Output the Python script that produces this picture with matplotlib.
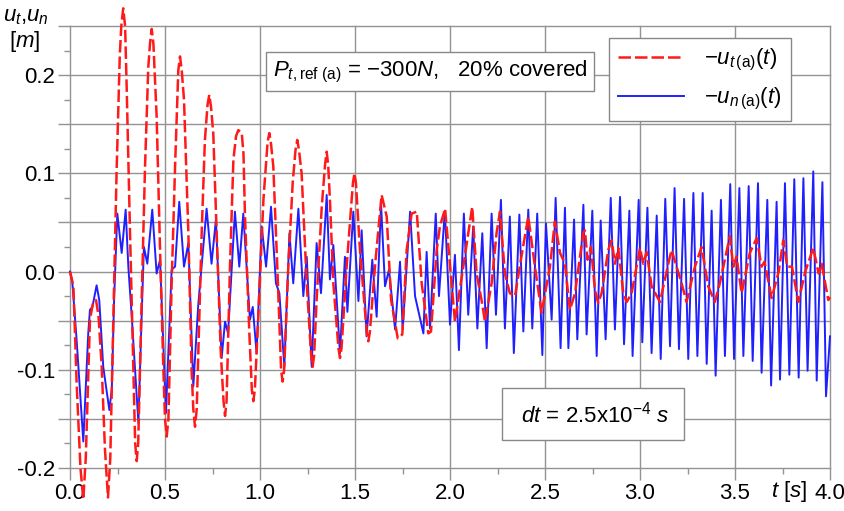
import matplotlib.pyplot as plt
from matplotlib.ticker import MultipleLocator

plt.rcParams['font.family'] = ['Liberation Sans', 'DejaVu Sans']
plt.rcParams['mathtext.fontset'] = 'custom'
plt.rcParams['mathtext.rm'] = 'Liberation Sans'
plt.rcParams['mathtext.it'] = 'Liberation Sans:italic'
plt.rcParams['mathtext.bf'] = 'Liberation Sans:bold'

# -u_t(a)(t), red dashed: points
t_red = [0.000, 0.018, 0.035, 0.055, 0.070, 0.083, 0.105, 0.120, 0.137, 0.150,
         0.167, 0.184, 0.200, 0.212, 0.228, 0.245, 0.262, 0.270, 0.280, 0.290,
         0.298, 0.316, 0.333, 0.343, 0.351, 0.359, 0.377, 0.395, 0.412, 0.421,
         0.430, 0.439, 0.456, 0.474, 0.491, 0.500, 0.509, 0.518, 0.535, 0.553,
         0.570, 0.579, 0.588, 0.600, 0.623, 0.640, 0.649, 0.658, 0.667, 0.693,
         0.710, 0.724, 0.733, 0.742, 0.754, 0.772, 0.793, 0.808, 0.816, 0.824,
         0.842, 0.860, 0.874, 0.886, 0.904, 0.913, 0.921, 0.944, 0.957, 0.965,
         0.973, 0.991, 1.018, 1.040, 1.049, 1.058, 1.070, 1.091, 1.111, 1.119,
         1.127, 1.149, 1.172, 1.187, 1.196, 1.205, 1.219, 1.246, 1.269, 1.277,
         1.285, 1.298, 1.325, 1.343, 1.351, 1.359, 1.368, 1.386, 1.413, 1.421,
         1.429, 1.456, 1.489, 1.497, 1.505, 1.526, 1.562, 1.570, 1.578, 1.605,
         1.640, 1.667, 1.690, 1.725, 1.749, 1.772, 1.798, 1.825, 1.851, 1.886,
         1.900, 1.930, 1.947, 1.974,
         2.026, 2.070, 2.096, 2.117, 2.140, 2.166, 2.184, 2.219, 2.245,
         2.263, 2.289, 2.315, 2.342, 2.380, 2.412, 2.447, 2.482, 2.526, 2.552,
         2.579, 2.605, 2.631, 2.658, 2.701, 2.710, 2.724, 2.742, 2.763, 2.780,
         2.798, 2.833, 2.851, 2.868, 2.886, 2.912, 2.930, 2.956, 3.000, 3.017,
         3.035, 3.061, 3.105, 3.149, 3.166, 3.219, 3.245, 3.289, 3.324, 3.359,
         3.394, 3.420, 3.473, 3.491, 3.508, 3.535, 3.578, 3.614, 3.640, 3.655,
         3.693, 3.730, 3.754, 3.775, 3.800, 3.833, 3.870, 3.912, 3.940, 3.956,
         3.991, 4.000]
u_red = [0.000, -0.015, -0.114, -0.200, -0.232, -0.190, -0.049, -0.033, -0.029, -0.045,
         -0.097, -0.181, -0.230, -0.190, -0.050, 0.100, 0.220, 0.250, 0.268, 0.250,
         0.190, 0.039, -0.097, -0.175, -0.193, -0.175, -0.029, 0.107, 0.208, 0.232,
         0.247, 0.232, 0.158, 0.022, -0.097, -0.150, -0.168, -0.150, -0.012, 0.107,
         0.205, 0.219, 0.205, 0.175, 0.039, -0.100, -0.140, -0.158, -0.140, 0.039,
         0.134, 0.170, 0.180, 0.168, 0.141, 0.039, -0.080, -0.132, -0.147, -0.132,
         0.005, 0.114, 0.138, 0.144, 0.141, 0.120, 0.056, -0.063, -0.120, -0.132,
         -0.120, -0.046, 0.073, 0.132, 0.141, 0.130, 0.107, 0.005, -0.100, -0.112,
         -0.100, 0.005, 0.090, 0.124, 0.134, 0.124, 0.100, -0.012, -0.085, -0.097,
         -0.085, -0.029, 0.066, 0.110, 0.122, 0.108, 0.073, -0.012, -0.078, -0.088,
         -0.078, 0.005, 0.090, 0.100, 0.090, 0.022, -0.062, -0.071, -0.062, 0.005,
         0.078, 0.056, -0.029, -0.068, -0.064, 0.022, 0.059, 0.061, -0.012, -0.063,
         -0.061, 0.022, 0.046, 0.064,
         -0.051, 0.005, 0.039, 0.066, -0.002, -0.029, -0.051, -0.012, 0.039,
         0.061, -0.002, -0.022, -0.025, 0.020, 0.056, 0.005, -0.042, 0.005, 0.051,
         0.019, 0.008, -0.039, -0.022, 0.039, 0.042, 0.012, 0.025, -0.019, -0.032,
         -0.022, 0.022, 0.032, 0.008, 0.024, -0.022, -0.031, -0.022, 0.024, 0.008,
         0.020, -0.015, -0.031, 0.008, 0.022, -0.012, -0.031, 0.005, 0.025, -0.015,
         -0.031, -0.012, 0.036, 0.005, 0.015, -0.022, 0.019, 0.034, 0.005, 0.010,
         -0.027, 0.000, 0.032, 0.005, 0.005, -0.031, 0.000, 0.024, -0.002, 0.008,
         -0.029, -0.026]

# -u_n(a)(t), blue solid: points
t_blue = [0.000, 0.012, 0.035, 0.070, 0.096, 0.105, 0.118, 0.140, 0.154, 0.175,
          0.207, 0.220, 0.232, 0.249, 0.272, 0.293, 0.307, 0.325, 0.360, 0.377,
          0.389, 0.407, 0.433, 0.456, 0.474, 0.505, 0.535, 0.553, 0.575, 0.600,
          0.623, 0.649, 0.675, 0.719, 0.745, 0.768, 0.798, 0.816, 0.832, 0.868,
          0.891, 0.912, 0.947, 0.962, 0.982, 1.009, 1.032, 1.058, 1.084, 1.102,
          1.128, 1.155, 1.175, 1.202, 1.228, 1.246, 1.272, 1.298, 1.321, 1.351,
          1.368, 1.386, 1.421, 1.447, 1.460, 1.491, 1.518, 1.535, 1.561, 1.591,
          1.614, 1.637, 1.658, 1.679, 1.711, 1.737, 1.751, 1.790, 1.816, 1.860,
          1.877, 1.895, 1.925, 1.942, 1.973, 2.000, 2.026, 2.047, 2.073, 2.096,
          2.122, 2.144, 2.170, 2.193, 2.219, 2.242, 2.268, 2.289, 2.315, 2.336,
          2.365, 2.386, 2.412, 2.433, 2.459, 2.486, 2.505, 2.535, 2.556, 2.582,
          2.605, 2.623, 2.653, 2.670, 2.702, 2.719, 2.749, 2.772, 2.793, 2.819,
          2.846, 2.868, 2.895, 2.916, 2.944, 2.961, 2.993, 3.012, 3.039, 3.061,
          3.088, 3.109, 3.133, 3.158, 3.182, 3.205, 3.232, 3.254, 3.281, 3.302,
          3.330, 3.351, 3.377, 3.398, 3.426, 3.447, 3.475, 3.495, 3.523, 3.544,
          3.572, 3.593, 3.621, 3.640, 3.670, 3.690, 3.719, 3.737, 3.763, 3.786,
          3.812, 3.835, 3.860, 3.882, 3.912, 3.930, 3.960, 3.979, 4.000]
u_blue = [0.000, -0.010, -0.070, -0.173, -0.063, -0.039, -0.036, -0.014, -0.029, -0.097,
          -0.141, -0.120, -0.029, 0.059, 0.019, 0.063, 0.005, -0.046, -0.154, -0.046,
          0.025, 0.008, 0.063, -0.002, 0.012, -0.144, 0.002, 0.005, 0.071, 0.005,
          0.029, -0.117, -0.034, 0.064, 0.008, 0.053, -0.088, -0.051, -0.063, 0.061,
          0.005, 0.059, -0.049, -0.036, -0.083, 0.046, 0.005, 0.066, -0.012, -0.022,
          -0.097, 0.039, -0.012, 0.064, -0.025, 0.015, -0.097, 0.029, -0.022, 0.078,
          -0.008, 0.027, -0.083, 0.015, -0.041, 0.061, -0.030, 0.042, -0.066, 0.012,
          -0.046, 0.069, -0.015, 0.002, -0.059, 0.010, -0.059, 0.061, -0.025, -0.063,
          0.020, -0.058, 0.059, -0.025, 0.062, -0.054, 0.017, -0.080, 0.059, -0.044,
          0.046, -0.058, 0.039, -0.078, 0.059, -0.044, 0.073, -0.058, 0.056, -0.083,
          0.058, -0.061, 0.063, -0.058, 0.059, -0.085, 0.049, -0.049, 0.075, -0.078,
          0.065, -0.078, 0.053, -0.069, 0.068, -0.064, 0.062, -0.086, 0.052, -0.069,
          0.075, -0.059, 0.076, -0.074, 0.062, -0.086, 0.073, -0.072, 0.065, -0.083,
          0.057, -0.089, 0.074, -0.076, 0.085, -0.079, 0.074, -0.089, 0.080, -0.086,
          0.080, -0.094, 0.062, -0.106, 0.073, -0.086, 0.089, -0.089, 0.085, -0.086,
          0.087, -0.091, 0.090, -0.103, 0.073, -0.116, 0.071, -0.110, 0.090, -0.105,
          0.094, -0.108, 0.095, -0.101, 0.102, -0.111, 0.091, -0.127, -0.066]

x_ticks = [0.0, 0.5, 1.0, 1.5, 2.0, 2.5, 3.0, 3.5, 4.0]
x_labels = ['0.0', '0.5', '1.0', '1.5', '2.0', '2.5', '3.0', '3.5', '4.0']
y_ticks = [-0.2, -0.15, -0.1, -0.05, 0.0, 0.05, 0.1, 0.15, 0.2, 0.25]
y_labels = ['-0.2', '', '-0.1', '', '0.0', '', '0.1', '', '0.2', '']

grid_c = '#939393'

fig = plt.figure(figsize=(8.44, 5.11), dpi=100)
ax = fig.add_axes([70 / 844, 43 / 511, 760 / 844, 442 / 511])
ax.set_xlim(0, 4)
ax.set_ylim(-0.2, 0.25)
for s in ax.spines.values():
    s.set_visible(False)

ax.set_xticks(x_ticks)
ax.set_xticklabels(x_labels)
ax.set_yticks(y_ticks)
ax.set_yticklabels(y_labels)
ax.xaxis.set_minor_locator(MultipleLocator(0.25))
ax.yaxis.set_minor_locator(MultipleLocator(0.025))
ax.tick_params(which='major', length=8.5, width=1.0, color=grid_c, labelsize=16, pad=2)
ax.tick_params(which='minor', length=4, width=1.0, color=grid_c)
ax.grid(True, which='major', color=grid_c, lw=1.0)
for gl in ax.get_xgridlines() + ax.get_ygridlines():
    gl.set_clip_on(False)

ln_b, = ax.plot(t_blue, u_blue, color='#2020ff', lw=1.4, zorder=3, clip_on=False)
ln_r, = ax.plot(t_red, u_red, color='#ff1a1a', lw=1.8, dashes=(5, 1.6), zorder=4, clip_on=False)

leg = ax.legend([ln_r, ln_b], [r'$-u_{t\,\mathrm{(a)}}(t)$', r'$-u_{n\,\mathrm{(a)}}(t)$'],
                loc='upper left', bbox_to_anchor=(0.709, 0.973), fontsize=16,
                fancybox=False, framealpha=1, edgecolor='#888888', handlelength=3.0,
                handletextpad=0.9, borderpad=0.4, labelspacing=0.6, borderaxespad=0)
leg.get_frame().set_linewidth(1.0)
leg.set_zorder(6)

box1 = dict(boxstyle='square,pad=0.3', fc='white', ec='#888888', lw=1.0)
box2 = dict(boxstyle='square,pad=0.6', fc='white', ec='#888888', lw=1.0)
ax.text(0.4737, 0.897, r'$P_{t,\mathrm{ref\ (a)}}$ = −300$N$,   20% covered',
        transform=ax.transAxes, ha='center', va='center', fontsize=16, bbox=box1, zorder=6)
ax.text(0.688, 0.122, r' $dt$ = 2.5x10$^{-4}$ $s$ ',
        transform=ax.transAxes, ha='center', va='center', fontsize=16, bbox=box2, zorder=6)

fig.text(3 / 844, 1 - 17 / 511, r'$u_t$,$u_n$', fontsize=16, va='center', ha='left')
fig.text(25 / 844, 1 - 41 / 511, r'[$m$]', fontsize=16, va='center', ha='center')
ax.text(0.97, -0.025, r'$t$ [$s$]', transform=ax.transAxes, fontsize=16, ha='right', va='top')

plt.savefig('out.png', dpi=100)
